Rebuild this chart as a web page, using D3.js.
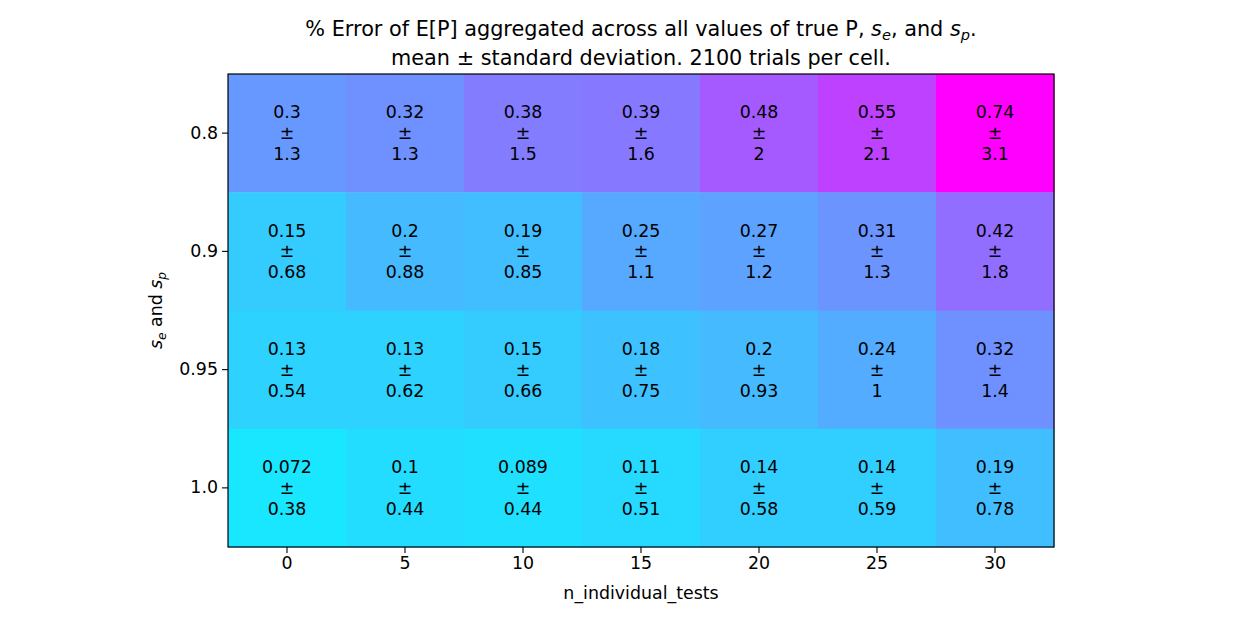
<!DOCTYPE html>
<html>
<head>
<meta charset="utf-8">
<script src="https://cdn.jsdelivr.net/npm/d3@7"></script>
<style>
  body { margin: 0; background: #fff; }
  svg text { font-family: "DejaVu Sans", sans-serif; fill: #000; }
</style>
</head>
<body>
<div id="chart"></div>
<script>
// columns: n_individual_tests, rows: s_e and s_p
const nTests = [0, 5, 10, 15, 20, 25, 30]
const seSp = ['0.8', '0.9', '0.95', '1.0']
// mean % error, one row per s_e/s_p value
const meanRows = [
  [0.3, 0.32, 0.38, 0.39, 0.48, 0.55, 0.74],
  [0.15, 0.2, 0.19, 0.25, 0.27, 0.31, 0.42],
  [0.13, 0.13, 0.15, 0.18, 0.2, 0.24, 0.32],
  [0.072, 0.1, 0.089, 0.11, 0.14, 0.14, 0.19]
]
// standard deviation
const stdRows = [
  [1.3, 1.3, 1.5, 1.6, 2, 2.1, 3.1],
  [0.68, 0.88, 0.85, 1.1, 1.2, 1.3, 1.8],
  [0.54, 0.62, 0.66, 0.75, 0.93, 1, 1.4],
  [0.38, 0.44, 0.44, 0.51, 0.58, 0.59, 0.78]
]

const W = 1250
const H = 625
const margin = { top: 74, left: 228, right: 196, bottom: 78 }
const width = W - margin.left - margin.right
const height = H - margin.top - margin.bottom
const fs = 17.4
const fsTitle = 20.8

const cells = []
seSp.forEach((s, i) => {
  nTests.forEach((n, j) => {
    cells.push({ row: s, col: n, mean: meanRows[i][j], std: stdRows[i][j] })
  })
})

const svgRoot = d3.select('#chart')
  .append('svg')
  .attr('width', W)
  .attr('height', H)

const svg = svgRoot.append('g')
  .attr('transform', 'translate(' + margin.left + ',' + margin.top + ')')

const xScale = d3.scaleBand().domain(nTests).range([0, width])
const yScale = d3.scaleBand().domain(seSp).range([0, height])

// matplotlib "cool" colormap
const maxMean = d3.max(cells, d => d.mean)
const cool = t => d3.rgb(255 * t, 255 * (1 - t), 255)
const colorScale = d3.scaleLinear().domain([0, maxMean]).range([0, 1]).clamp(true)

svg.selectAll('rect.cell')
  .data(cells)
  .enter()
  .append('rect')
  .attr('class', 'cell')
  .attr('x', d => xScale(d.col))
  .attr('y', d => yScale(d.row))
  .attr('width', xScale.bandwidth() + 0.5)
  .attr('height', yScale.bandwidth() + 0.5)
  .attr('fill', d => cool(colorScale(d.mean)))

const labels = svg.selectAll('text.cell-label')
  .data(cells)
  .enter()
  .append('text')
  .attr('class', 'cell-label')
  .attr('text-anchor', 'middle')
  .attr('font-size', fs + 'px')

labels.each(function(d) {
  const cx = xScale(d.col) + xScale.bandwidth() / 2
  const cy = yScale(d.row) + yScale.bandwidth() / 2
  const lines = [String(d.mean), '±', String(d.std)]
  d3.select(this).selectAll('tspan')
    .data(lines)
    .enter()
    .append('tspan')
    .attr('x', cx)
    .attr('y', (l, k) => cy + (k - 1) * 20.8)
    .attr('dy', '0.35em')
    .text(l => l)
})

// frame
svg.append('rect')
  .attr('width', width)
  .attr('height', height)
  .attr('fill', 'none')
  .attr('stroke', '#000')
  .attr('stroke-width', 1.2)

const xAxis = d3.axisBottom(xScale).tickSizeOuter(0).tickSize(6).tickPadding(4)
svg.append('g')
  .attr('class', 'axis x-axis')
  .attr('transform', 'translate(0,' + height + ')')
  .call(xAxis)

const yAxis = d3.axisLeft(yScale).tickSizeOuter(0).tickSize(6).tickPadding(4)
svg.append('g')
  .attr('class', 'axis y-axis')
  .call(yAxis)

svg.selectAll('.axis .domain').remove()
svg.selectAll('.axis text')
  .attr('font-size', fs + 'px')
  .attr('font-family', '"DejaVu Sans", sans-serif')
svg.selectAll('.axis line').attr('stroke', '#000').attr('stroke-width', 1.1)

// axis labels
svg.append('text')
  .attr('x', width / 2)
  .attr('y', height + 52)
  .attr('text-anchor', 'middle')
  .attr('font-size', fs + 'px')
  .text('n_individual_tests')

const yl = svg.append('text')
  .attr('transform', 'translate(-66,' + height / 2 + ') rotate(-90)')
  .attr('text-anchor', 'middle')
  .attr('font-size', fs + 'px')
yl.append('tspan').attr('font-style', 'italic').text('s')
yl.append('tspan').attr('font-style', 'italic').attr('font-size', '12.2px').attr('dy', '3.5').text('e')
yl.append('tspan').attr('dy', '-3.5').text(' and ')
yl.append('tspan').attr('font-style', 'italic').text('s')
yl.append('tspan').attr('font-style', 'italic').attr('font-size', '12.2px').attr('dy', '3.5').text('p')

// title
const title = svgRoot.append('g').attr('transform', 'translate(' + (margin.left + width / 2) + ',0)')
const t1 = title.append('text')
  .attr('y', 36)
  .attr('text-anchor', 'middle')
  .attr('font-size', fsTitle + 'px')
t1.append('tspan').text('% Error of E[P] aggregated across all values of true P, ')
t1.append('tspan').attr('font-style', 'italic').text('s')
t1.append('tspan').attr('font-style', 'italic').attr('font-size', '14.6px').attr('dy', '4').text('e')
t1.append('tspan').attr('dy', '-4').text(', and ')
t1.append('tspan').attr('font-style', 'italic').text('s')
t1.append('tspan').attr('font-style', 'italic').attr('font-size', '14.6px').attr('dy', '4').text('p')
t1.append('tspan').attr('dy', '-4').text('.')

title.append('text')
  .attr('y', 65)
  .attr('text-anchor', 'middle')
  .attr('font-size', fsTitle + 'px')
  .text('mean ± standard deviation. 2100 trials per cell.')
</script>
</body>
</html>
